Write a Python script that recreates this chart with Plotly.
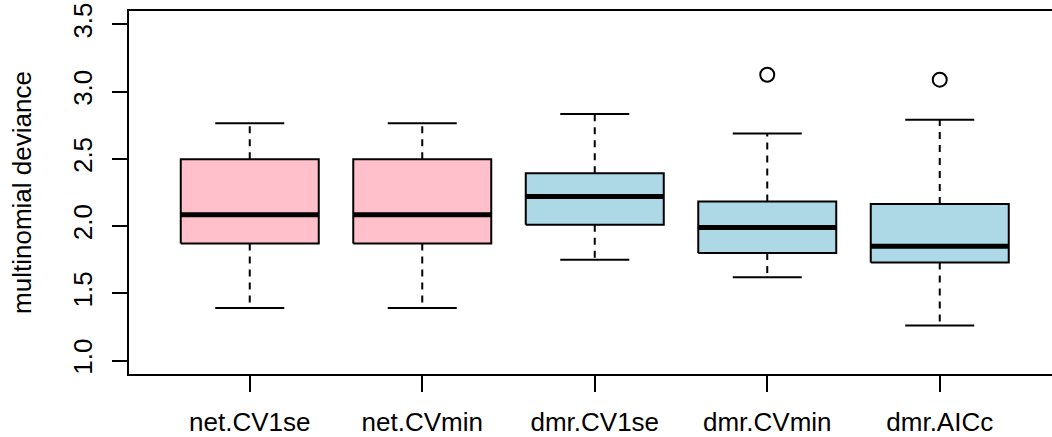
import plotly.graph_objects as go

# ---- data ----
categories = ["net.CV1se", "net.CVmin", "dmr.CV1se", "dmr.CVmin", "dmr.AICc"]
lower_whisker = [1.39, 1.39, 1.75, 1.62, 1.26]
q1 = [1.87, 1.87, 2.01, 1.80, 1.73]
median = [2.085, 2.085, 2.22, 1.99, 1.85]
q3 = [2.497, 2.497, 2.394, 2.183, 2.164]
upper_whisker = [2.765, 2.765, 2.833, 2.689, 2.791]
outlier_cat = ["dmr.CVmin", "dmr.AICc"]
outlier_val = [3.126, 3.089]

y_ticks = [1.0, 1.5, 2.0, 2.5, 3.0, 3.5]
y_ticktext = ["1.0", "1.5", "2.0", "2.5", "3.0", "3.5"]

# ---- styling ----
fill_colors = ["#FFC0CB", "#FFC0CB", "#ADD8E6", "#ADD8E6", "#ADD8E6"]
BOX_HALF = 0.4
STAPLE_HALF = 0.2
FONT = "Liberation Sans, Arial, Helvetica, sans-serif"
FS = 26

fig = go.Figure()
pos = {c: i + 1 for i, c in enumerate(categories)}

for i, c in enumerate(categories):
    x = pos[c]
    # whiskers (dashed)
    for a, b in ((q3[i], upper_whisker[i]), (q1[i], lower_whisker[i])):
        fig.add_trace(go.Scatter(x=[x, x], y=[a, b], mode="lines",
                                 line=dict(color="black", width=2, dash="7px,6px"),
                                 hoverinfo="skip", showlegend=False))
    # staples
    for v in (upper_whisker[i], lower_whisker[i]):
        fig.add_trace(go.Scatter(x=[x - STAPLE_HALF, x + STAPLE_HALF], y=[v, v], mode="lines",
                                 line=dict(color="black", width=2),
                                 hoverinfo="skip", showlegend=False))
    # box
    fig.add_trace(go.Scatter(
        x=[x - BOX_HALF, x + BOX_HALF, x + BOX_HALF, x - BOX_HALF, x - BOX_HALF],
        y=[q1[i], q1[i], q3[i], q3[i], q1[i]],
        mode="lines", fill="toself", fillcolor=fill_colors[i],
        line=dict(color="black", width=2), hoverinfo="skip", showlegend=False))
    # median
    fig.add_trace(go.Scatter(x=[x - BOX_HALF, x + BOX_HALF], y=[median[i], median[i]],
                             mode="lines", line=dict(color="black", width=5),
                             hoverinfo="skip", showlegend=False))

fig.add_trace(go.Scatter(
    x=[pos[c] for c in outlier_cat], y=outlier_val, mode="markers",
    marker=dict(symbol="circle-open", size=14, color="black", line=dict(width=2)),
    hoverinfo="skip", showlegend=False))

W, H = 1052, 437
L, R, T, B = 129, 0, 11, 63
px_per_unit = 172.5
fig.update_layout(
    width=W, height=H,
    margin=dict(l=L, r=R, t=T, b=B, pad=0),
    paper_bgcolor="white", plot_bgcolor="white",
    font=dict(family=FONT, size=FS, color="black"),
    xaxis=dict(
        range=[0.3, 0.3 + (W - L - R) / px_per_unit],
        tickmode="array", tickvals=[pos[c] for c in categories], ticktext=categories,
        ticks="outside", ticklen=16, tickwidth=2, tickcolor="black",
        ticklabelstandoff=8,
        showline=True, linecolor="black", linewidth=2, mirror=True,
        showgrid=False, zeroline=False,
        tickfont=dict(family=FONT, size=FS, color="black"),
    ),
    yaxis=dict(
        range=[0.9, 3.6],
        tickmode="array", tickvals=y_ticks, ticktext=y_ticktext,
        ticks="outside", ticklen=15, tickwidth=2, tickcolor="black",
        tickangle=-90, ticklabelstandoff=10,
        showline=True, linecolor="black", linewidth=2, mirror=False,
        showgrid=False, zeroline=False,
        tickfont=dict(family=FONT, size=FS, color="black"),
        title=dict(text="multinomial deviance", font=dict(family=FONT, size=FS, color="black"),
                   standoff=28),
    ),
)

fig.write_html("out.html")
